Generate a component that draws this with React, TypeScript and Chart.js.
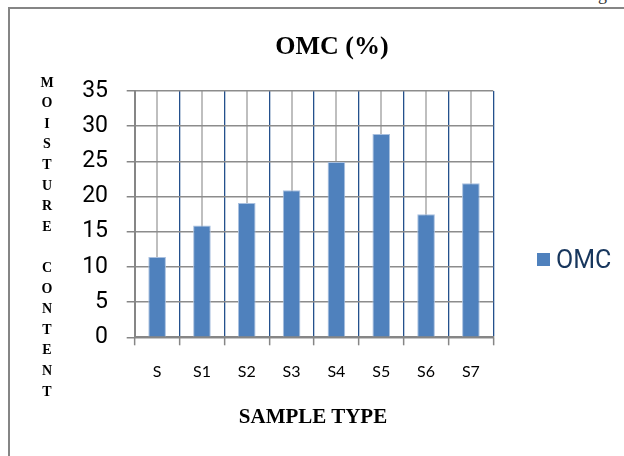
import React, { useEffect, useRef } from "react";
import { Chart, registerables } from "chart.js";

Chart.register(...registerables);

const categories = ["S", "S1", "S2", "S3", "S4", "S5", "S6", "S7"];
const omcValues = [11.4, 15.9, 19.1, 20.9, 24.9, 28.9, 17.5, 21.9];
const seriesName = "OMC";
const chartTitle = "OMC (%)";
const xTitle = "SAMPLE TYPE";
const yTitle = "MOISTURE CONTENT";
const yMin = 0;
const yMax = 35;
const yStep = 5;
const topText = "The values of the OMC and MDD was as shown in Figure";

const BAR = "#4F81BD";
const AXIS_GRAY = "#868686";

export default function App() {
  const canvasRef = useRef<HTMLCanvasElement | null>(null);

  useEffect(() => {
    const canvas = canvasRef.current;
    if (!canvas) return;
    const chart = new Chart(canvas, {
      type: "bar",
      data: {
        labels: categories,
        datasets: [
          {
            label: seriesName,
            data: omcValues,
            backgroundColor: BAR,
            borderColor: "#A9C0DF",
            borderWidth: 1,
            barPercentage: 0.393,
            categoryPercentage: 1,
            xAxisID: "x",
            yAxisID: "y",
          },
        ],
      },
      options: {
        responsive: false,
        animation: false,
        devicePixelRatio: 1,
        layout: { padding: { left: 60, right: 130.7, top: 91, bottom: 0 } },
        plugins: {
          legend: { display: false },
          title: { display: false },
          tooltip: { enabled: false },
        },
        scales: {
          x: {
            type: "category",
            position: "bottom",
            offset: true,
            grid: {
              offset: true,
              display: true,
              drawOnChartArea: true,
              drawTicks: true,
              tickLength: 8,
              tickColor: AXIS_GRAY,
              tickWidth: 1.5,
              color: (ctx: any) => (ctx.index === 0 ? AXIS_GRAY : "#24508C"),
              lineWidth: 1.3,
            },
            border: { display: true, color: AXIS_GRAY, width: 2 },
            ticks: {
              color: "#000",
              padding: 17,
              font: { family: "Lato, 'Liberation Sans', sans-serif", size: 16 },
            },
            afterFit: (scale: any) => {
              scale.height = 118.7;
            },
          },
          x2: {
            type: "category",
            position: "bottom",
            offset: true,
            labels: categories,
            grid: {
              offset: false,
              drawTicks: false,
              color: "#BFBFBF",
              lineWidth: 2,
            },
            border: { display: false },
            ticks: { display: false },
            afterFit: (scale: any) => {
              scale.height = 0;
            },
          },
          y: {
            type: "linear",
            position: "left",
            min: yMin,
            max: yMax,
            ticks: {
              stepSize: yStep,
              color: "#000",
              padding: 18.7,
              font: {
                family: "'Liberation Sans Narrow', 'Arial Narrow', Roboto, sans-serif",
                size: 23,
              },
            },
            grid: {
              color: "#8C8C8C",
              lineWidth: 1.5,
              tickLength: 8,
              tickColor: AXIS_GRAY,
            },
            border: { display: true, color: AXIS_GRAY, width: 2 },
            afterFit: (scale: any) => {
              scale.width = 74.7;
            },
          },
        },
      },
    });
    return () => chart.destroy();
  }, []);

  const letters = yTitle.split("");

  return (
    <div
      style={{
        position: "fixed",
        left: 0,
        top: 0,
        width: 624,
        height: 456,
        overflow: "hidden",
        background: "#fff",
      }}
    >
      <div
        style={{
          position: "absolute",
          left: 30,
          top: -15,
          width: 600,
          whiteSpace: "nowrap",
          textAlignLast: "justify",
          textAlign: "justify",
          fontFamily: "'Liberation Serif', serif",
          fontSize: 18,
          lineHeight: "18px",
          color: "#333",
        }}
      >
        {topText}
      </div>
      <div
        style={{
          position: "absolute",
          left: 8,
          top: 7,
          width: 700,
          height: 600,
          border: "2.5px solid #858585",
          boxSizing: "border-box",
        }}
      />
      <canvas
        ref={canvasRef}
        width={624}
        height={456}
        style={{ position: "absolute", left: 0, top: 0, width: 624, height: 456 }}
      />
      <div
        style={{
          position: "absolute",
          left: 0,
          top: 30,
          width: 664,
          textAlign: "center",
          fontFamily: "'Liberation Serif', serif",
          fontWeight: "bold",
          fontSize: 26,
          lineHeight: "32px",
          color: "#000",
        }}
      >
        {chartTitle}
      </div>
      <div
        style={{
          position: "absolute",
          left: 213,
          top: 403,
          width: 200,
          textAlign: "center",
          fontFamily: "'Liberation Serif', serif",
          fontWeight: "bold",
          fontSize: 21,
          lineHeight: "26px",
          color: "#000",
          whiteSpace: "nowrap",
        }}
      >
        {xTitle}
      </div>
      <div
        style={{
          position: "absolute",
          left: 37,
          top: 72.7,
          width: 20,
          display: "flex",
          flexDirection: "column",
          alignItems: "center",
          fontFamily: "'Liberation Serif', serif",
          fontWeight: "bold",
          fontSize: 14,
          color: "#000",
        }}
      >
        {letters.map((ch, i) => (
          <div key={i} style={{ height: 20.6, lineHeight: "20.6px" }}>
            {ch === " " ? "\u00a0" : ch}
          </div>
        ))}
      </div>
      <div
        style={{
          position: "absolute",
          left: 537,
          top: 253,
          width: 13,
          height: 13,
          background: BAR,
        }}
      />
      <div
        style={{
          position: "absolute",
          left: 556,
          top: 244,
          fontFamily: "'Liberation Sans Narrow', 'Arial Narrow', Roboto, sans-serif",
          fontSize: 25,
          lineHeight: "32px",
          color: "#17365D",
          whiteSpace: "nowrap",
        }}
      >
        {seriesName}
      </div>
    </div>
  );
}
